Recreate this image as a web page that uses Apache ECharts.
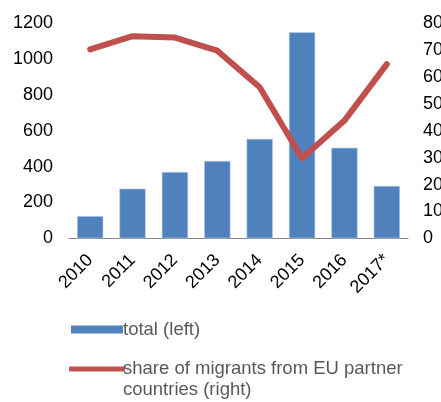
<!DOCTYPE html>
<html><head><meta charset="utf-8">
<script src="https://cdn.jsdelivr.net/npm/echarts@6/dist/echarts.min.js"></script>
<style>html,body{margin:0;padding:0;background:#fff}#c{width:441px;height:402px}</style>
</head><body><div id="c"></div>
<script>
const categories = ['2010','2011','2012','2013','2014','2015','2016','2017*'];
const totalValues = [124, 277, 370, 432, 555, 1150, 505, 292];
const shareValues = [70.3, 75.2, 74.7, 69.8, 56.2, 29.8, 43.8, 64.8];
const leftTicks = {min: 0, max: 1200, interval: 200};
const rightTicks = {min: 0, max: 80, interval: 10};
const barName = 'total (left)';
const lineName = 'share of migrants from EU partner\ncountries (right)';

const chart = echarts.init(document.getElementById('c'), null, {renderer: 'canvas'});
const font = 'Liberation Sans, Arial, sans-serif';
chart.setOption({
  animation: false,
  textStyle: {fontFamily: font},
  grid: {left: 69, right: 33, top: 23.3, bottom: 163.7, containLabel: false, outerBoundsMode: 'none'},
  legend: [
    {data: [{name: barName, icon: 'rect', itemStyle: {borderWidth: 0, color: '#4F81BD'}}], left: 66, top: 315, orient: 'vertical',
     itemWidth: 52, itemHeight: 8, itemGap: 5,
     textStyle: {fontSize: 18.5, color: '#595959', fontFamily: font, padding: [0,0,0,-5]}},
    {data: [{name: lineName, icon: 'roundRect'}], left: 64, top: 332.5, orient: 'vertical',
     itemWidth: 56, itemHeight: 5, itemGap: 5,
     formatter: function (n) { return ' \n' + n; },
     textStyle: {fontSize: 18.5, color: '#595959', fontFamily: font, lineHeight: 21, padding: [0,0,0,-7]}}
  ],
  xAxis: {
    type: 'category', data: categories,
    axisLine: {lineStyle: {color: '#868686', width: 1}},
    axisTick: {show: false},
    axisLabel: {rotate: 45, interval: 0, fontSize: 18, color: '#000', margin: 19, fontFamily: font}
  },
  yAxis: [
    {type: 'value', min: leftTicks.min, max: leftTicks.max, interval: leftTicks.interval,
     splitLine: {show: false}, axisLine: {show: false}, axisTick: {show: false},
     axisLabel: {fontSize: 18, color: '#000', margin: 16, fontFamily: font, formatter: function (v) { return String(v); }}},
    {type: 'value', min: rightTicks.min, max: rightTicks.max, interval: rightTicks.interval,
     splitLine: {show: false}, axisLine: {show: false}, axisTick: {show: false},
     axisLabel: {fontSize: 18, color: '#000', margin: 15, fontFamily: font, formatter: function (v) { return String(v); }}}
  ],
  series: [
    {name: barName, type: 'bar', data: totalValues, yAxisIndex: 0, barWidth: '62%',
     itemStyle: {color: '#4F81BD', borderColor: '#B9CDE5', borderWidth: 0.6}},
    {name: lineName, type: 'line', data: shareValues, yAxisIndex: 1, symbol: 'none',
     lineStyle: {color: '#C0504D', width: 6, cap: 'round', join: 'round'},
     itemStyle: {color: '#C0504D'}}
  ]
});
</script></body></html>
